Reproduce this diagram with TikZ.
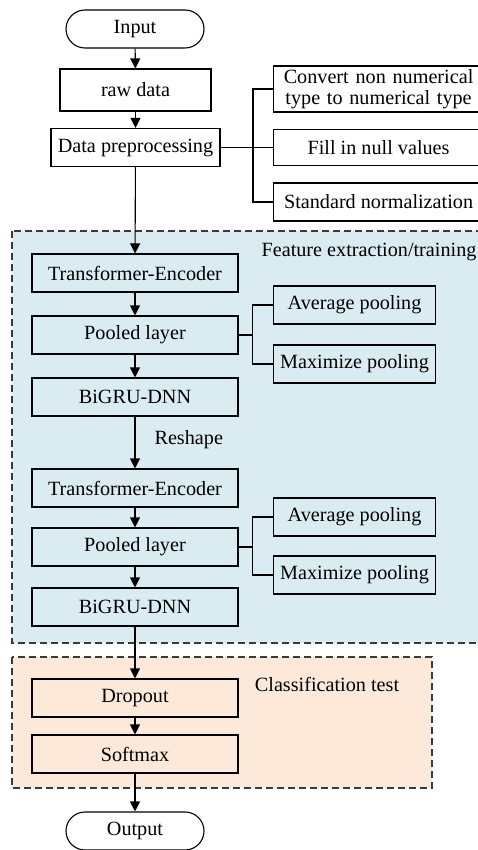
\documentclass[tikz,border=0pt]{standalone}
\usepackage{fontspec}
\setmainfont{Liberation Serif}
\usepackage{tikz}
\usetikzlibrary{arrows.meta, positioning, backgrounds}
\definecolor{RegionBlue}{HTML}{DAEBF1}
\definecolor{RegionOrange}{HTML}{FCE9DA}
\definecolor{BorderGrey}{HTML}{3A3A3A}
\tikzset{
  termbox/.style={rectangle, rounded corners=19pt, draw=black, fill=white, line width=1.1pt, minimum width=138pt, minimum height=38pt, font=\fontsize{20.2}{23}\selectfont, inner sep=0pt},
  procbox/.style={rectangle, draw=black, fill=white, line width=1.1pt, minimum width=206pt, minimum height=38pt, font=\fontsize{20.2}{23}\selectfont, align=center, inner sep=0pt},
  poolbox/.style={procbox, minimum width=162pt},
  sidebox/.style={procbox, minimum width=210pt},
  regionbox/.style={draw=BorderGrey, line width=1.1pt, dash pattern=on 7pt off 4pt},
  regionlabel/.style={font=\fontsize{20.2}{23}\selectfont, inner sep=0pt},
  arrow/.style={->, >={Triangle[width=10pt,length=10pt]}, line width=1.1pt},
  branch/.style={line width=1.1pt}
}
\begin{document}
\begin{tikzpicture}[x=1pt, y=-1pt]
  \useasboundingbox (0,0) rectangle (478,850);

  % Regions
  \draw[regionbox, fill=RegionBlue] (12,231) rectangle (490,643);
  \draw[regionbox, fill=RegionOrange] (12,657) rectangle (432,788);
  \node[regionlabel] (lblfeat) at (369,252) {Feature extraction/training};
  \node[regionlabel] (lblcls) at (327,684) {Classification test};

  % Input and preprocessing
  \node[termbox] (input) at (135,29) {Input};
  \node[procbox, minimum width=151pt, minimum height=42pt] (raw) at (135.5,90) {raw data};
  \node[procbox, minimum width=169pt] (prep) at (135.5,147.5) {Data preprocessing};
  \node[sidebox, minimum height=46pt, text width=200pt, anchor=west] (conv) at (273,89) {Convert non numerical\\[-2pt]type to numerical type};
  \node[sidebox, minimum height=36pt, anchor=west] (fill) at (273,147.5) {Fill in null values};
  \node[sidebox, anchor=west] (norm) at (273,202) {Standard normalization};

  % Feature extraction
  \node[procbox, fill=RegionBlue] (enc1) at (135,273) {Transformer-Encoder};
  \node[procbox, fill=RegionBlue] (pool1) at (135,335) {Pooled layer};
  \node[procbox, fill=RegionBlue] (gru1) at (135,397) {BiGRU-DNN};
  \node[poolbox, fill=RegionBlue, anchor=west] (avg1) at (273,305) {Average pooling};
  \node[poolbox, fill=RegionBlue, anchor=west] (max1) at (273,364) {Maximize pooling};
  \node[procbox, fill=RegionBlue] (enc2) at (135,488) {Transformer-Encoder};
  \node[procbox, fill=RegionBlue] (pool2) at (135,547) {Pooled layer};
  \node[procbox, fill=RegionBlue] (gru2) at (135,607) {BiGRU-DNN};
  \node[poolbox, fill=RegionBlue, anchor=west] (avg2) at (273,517) {Average pooling};
  \node[poolbox, fill=RegionBlue, anchor=west] (max2) at (273,575) {Maximize pooling};

  % Classification
  \node[procbox, fill=RegionOrange] (drop) at (135,698) {Dropout};
  \node[procbox, fill=RegionOrange] (soft) at (135,754) {Softmax};
  \node[termbox] (output) at (135,831) {Output};

  % Main flow
  \draw[arrow] (input) -- (raw);
  \draw[arrow] (raw) -- (prep);
  \draw[arrow] (prep) -- (enc1);
  \draw[arrow] (enc1) -- (pool1);
  \draw[arrow] (pool1) -- (gru1);
  \draw[arrow] (gru1) -- node[regionlabel, right=19pt, pos=0.45] (lblres) {Reshape} (enc2);
  \draw[arrow] (enc2) -- (pool2);
  \draw[arrow] (pool2) -- (gru2);
  \draw[arrow] (gru2) -- (drop);
  \draw[arrow] (drop) -- (soft);
  \draw[arrow] (soft) -- (output);

  % Branches
  \draw[branch] (prep.east) -- (fill.west);
  \draw[branch] (conv.west) -- ++(-20,0) coordinate (bp) |- (norm.west);
  \draw[branch] (pool1.east) -- ++(14,0) coordinate (b1);
  \draw[branch] (avg1.west) -| (b1) |- (max1.west);
  \draw[branch] (pool2.east) -- ++(14,0) coordinate (b2);
  \draw[branch] (avg2.west) -| (b2) |- (max2.west);
\end{tikzpicture}
\end{document}
